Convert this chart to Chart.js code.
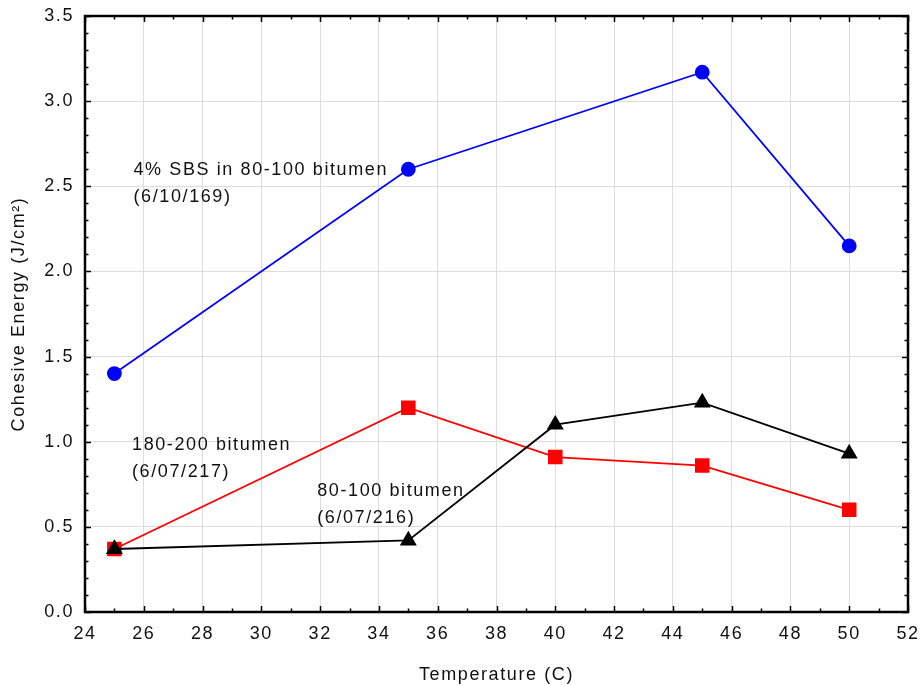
<!DOCTYPE html>
<html>
<head>
<meta charset="utf-8">
<script src="https://cdn.jsdelivr.net/npm/chart.js@4/dist/chart.umd.min.js"></script>
<style>
  html, body { margin: 0; padding: 0; background: #fff; }
  #wrap { width: 922px; height: 686px; }
</style>
</head>
<body>
<div id="wrap"><canvas id="chart" width="922" height="686"></canvas></div>
<script>
// temperatures (C) and cohesive energy (J/cm2) per binder
const temps = [25, 35, 40, 45, 50];
const sbsTemps = [25, 35, 45, 50];
const sbs = [1.40, 2.60, 3.17, 2.15];
const bit180 = [0.37, 1.20, 0.91, 0.86, 0.60];
const bit80 = [0.37, 0.42, 1.10, 1.23, 0.93];

const xTicks = [24, 26, 28, 30, 32, 34, 36, 38, 40, 42, 44, 46, 48, 50, 52];
const yTicks = [0.0, 0.5, 1.0, 1.5, 2.0, 2.5, 3.0, 3.5];

// text labels next to each curve, placed in data units
const notes = [
  { x: 25.65, y: 2.595, lines: ['4% SBS in 80-100 bitumen', '(6/10/169)'] },
  { x: 25.6, y: 0.98, lines: ['180-200 bitumen', '(6/07/217)'] },
  { x: 31.9, y: 0.71, lines: ['80-100 bitumen', '(6/07/216)'] }
];

const FONT = 'Liberation Sans, Arial, sans-serif';
const SPACING = '1.6px';

const toXY = (xs, ys) => xs.map((x, i) => ({ x: x, y: ys[i] }));

// wide letter spacing for every piece of text on the canvas
const spacingPlugin = {
  id: 'spacing',
  beforeLayout(chart) { chart.ctx.letterSpacing = SPACING; },
  beforeDraw(chart) { chart.ctx.letterSpacing = SPACING; }
};

// frame, inward ticks and curve labels
const framePlugin = {
  id: 'frame',
  afterDatasetsDraw(chart) {
    const { ctx, chartArea: a, scales } = chart;
    const sx = scales.x, sy = scales.y;
    ctx.save();
    ctx.strokeStyle = '#000';
    ctx.lineWidth = 1.5;
    ctx.beginPath();
    // x ticks: major every 2, minor every 1
    for (let v = 24; v <= 52; v += 1) {
      const px = Math.round(sx.getPixelForValue(v)) + 0.5;
      const len = v % 2 === 0 ? 6 : 3.5;
      ctx.moveTo(px, a.bottom); ctx.lineTo(px, a.bottom - len);
      ctx.moveTo(px, a.top); ctx.lineTo(px, a.top + len);
    }
    // y ticks: major every 0.5, minor every 0.1
    for (let i = 0; i <= 35; i++) {
      const py = Math.round(sy.getPixelForValue(i / 10)) + 0.5;
      const len = i % 5 === 0 ? 6 : 3.5;
      ctx.moveTo(a.left, py); ctx.lineTo(a.left + len, py);
      ctx.moveTo(a.right, py); ctx.lineTo(a.right - len, py);
    }
    ctx.stroke();
    ctx.lineWidth = 2.5;
    ctx.strokeRect(a.left, a.top, a.right - a.left, a.bottom - a.top);

    ctx.fillStyle = '#111';
    ctx.font = '18px ' + FONT;
    ctx.textBaseline = 'middle';
    ctx.textAlign = 'left';
    notes.forEach(n => {
      const px = sx.getPixelForValue(n.x);
      const py = sy.getPixelForValue(n.y);
      n.lines.forEach((t, i) => ctx.fillText(t, px, py + i * 27));
    });
    ctx.restore();
  }
};

new Chart(document.getElementById('chart'), {
  type: 'scatter',
  data: {
    datasets: [
      {
        label: '4% SBS in 80-100 bitumen',
        data: toXY(sbsTemps, sbs),
        showLine: true,
        borderColor: '#0000ff',
        backgroundColor: '#0000ff',
        borderWidth: 1.8,
        pointStyle: 'circle',
        pointRadius: 6.5,
        pointHoverRadius: 6.5
      },
      {
        label: '80-100 bitumen',
        data: toXY(temps, bit80),
        showLine: true,
        borderColor: '#000000',
        backgroundColor: '#000000',
        borderWidth: 1.8,
        pointStyle: 'triangle',
        pointRadius: 8,
        pointHoverRadius: 8
      },
      {
        label: '180-200 bitumen',
        data: toXY(temps, bit180),
        showLine: true,
        borderColor: '#ff0000',
        backgroundColor: '#ff0000',
        borderWidth: 1.8,
        pointStyle: 'rect',
        pointRadius: 9,
        pointHoverRadius: 9
      }
    ]
  },
  options: {
    responsive: false,
    animation: false,
    layout: { padding: { top: 16, right: 14, left: 0, bottom: 0 } },
    plugins: {
      legend: { display: false },
      tooltip: { enabled: false }
    },
    scales: {
      x: {
        type: 'linear',
        min: 24,
        max: 52,
        afterBuildTicks: s => { s.ticks = xTicks.map(v => ({ value: v })); },
        afterFit: s => { s.height = 74; s.paddingLeft = 0; s.paddingRight = 0; },
        grid: { color: '#dcdcdc', lineWidth: 1, drawTicks: false },
        border: { display: false },
        ticks: {
          color: '#111',
          font: { size: 18, family: FONT },
          padding: 11,
          maxRotation: 0,
          callback: v => String(v)
        },
        title: {
          display: true,
          text: 'Temperature (C)',
          color: '#111',
          font: { size: 18, family: FONT },
          padding: { top: 13, bottom: 0 }
        }
      },
      y: {
        type: 'linear',
        min: 0,
        max: 3.5,
        afterBuildTicks: s => { s.ticks = yTicks.map(v => ({ value: v })); },
        afterFit: s => { s.width = 85; s.paddingTop = 0; s.paddingBottom = 0; },
        grid: { color: '#dcdcdc', lineWidth: 1, drawTicks: false },
        border: { display: false },
        ticks: {
          color: '#111',
          font: { size: 18, family: FONT },
          padding: 11,
          callback: v => v.toFixed(1)
        },
        title: {
          display: true,
          text: 'Cohesive Energy (J/cm²)',
          color: '#111',
          font: { size: 18, family: FONT },
          padding: { top: 8, bottom: 0 }
        }
      }
    }
  },
  plugins: [spacingPlugin, framePlugin]
});
</script>
</body>
</html>
